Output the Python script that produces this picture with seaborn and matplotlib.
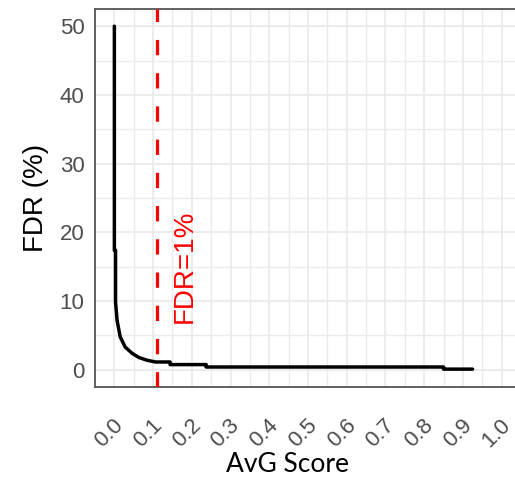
import numpy as np
import pandas as pd
import seaborn as sns
import matplotlib.pyplot as plt
from matplotlib.transforms import ScaledTranslation

# FDR curve (step-like decay)
score = [0.000, 0.000, 0.003, 0.003, 0.007, 0.015, 0.028, 0.046, 0.063,
         0.084, 0.106, 0.144, 0.144, 0.237, 0.237, 0.850, 0.850, 0.925]
fdr = [50.0, 17.4, 17.4, 9.9, 7.2, 4.8, 3.3, 2.4, 1.8,
       1.4, 1.14, 1.14, 0.76, 0.76, 0.41, 0.41, 0.10, 0.10]

cutoff = 0.111
cutoff_label = "FDR=1%"
x_ticks = [0.0, 0.1, 0.2, 0.3, 0.4, 0.5, 0.6, 0.7, 0.8, 0.9, 1.0]
x_tick_labels = ["0.0", "0.1", "0.2", "0.3", "0.4", "0.5", "0.6", "0.7", "0.8", "0.9", "1.0"]
y_ticks = [0, 10, 20, 30, 40, 50]

df = pd.DataFrame({"score": score, "fdr": fdr})

sns.set_theme(style="white")
plt.rcParams["font.family"] = ["Liberation Sans", "DejaVu Sans"]

fig = plt.figure(figsize=(5.15, 4.8), dpi=100)
ax = fig.add_axes([95 / 515, 1 - 387 / 480, 426 / 515, 378 / 480])

sns.lineplot(data=df, x="score", y="fdr", sort=False, estimator=None,
             color="black", linewidth=2.5, ax=ax, zorder=3)
ax.axvline(cutoff, color="#FF0000", linewidth=2.3, linestyle=(0, (4.8, 5.6)), zorder=4)
ax.text(0.183, 15, cutoff_label, rotation=90, color="#FF0000", fontsize=20,
        ha="center", va="center")

ax.set_xlim(-0.05, 1.05)
ax.set_ylim(-2.5, 52.5)

# grid (ggplot theme_bw look)
ax.set_xticks(x_ticks)
ax.set_xticks(np.arange(0.05, 1.0, 0.1), minor=True)
ax.set_yticks(y_ticks)
ax.set_yticks(np.arange(5, 50, 10), minor=True)
ax.grid(which="major", color="#EBEBEB", linewidth=1.3)
ax.grid(which="minor", color="#EBEBEB", linewidth=1.0)
ax.set_axisbelow(True)

for sp in ax.spines.values():
    sp.set_color("#555555")
    sp.set_linewidth(1.3)
ax.spines["right"].set_visible(False)

ax.tick_params(axis="both", which="major", length=4, width=1.1, color="#555555",
               labelcolor="#4D4D4D", labelsize=16, direction="out")
ax.tick_params(axis="both", which="minor", length=0)
ax.tick_params(axis="x", pad=16)
ax.set_xticklabels(x_tick_labels, rotation=45, ha="center", va="top")
shift = ScaledTranslation(-5 / 100, 0, fig.dpi_scale_trans)
for lab in ax.get_xticklabels():
    lab.set_transform(lab.get_transform() + shift)

ax.set_xlabel("")
ax.set_ylabel("FDR (%)", fontsize=20, color="black", labelpad=8)
fig.text(287 / 515, 3 / 480, "AvG Score", fontsize=19, color="black",
         ha="center", va="bottom", family=["Lato", "DejaVu Sans"])

fig.savefig("out.png", dpi=100)
